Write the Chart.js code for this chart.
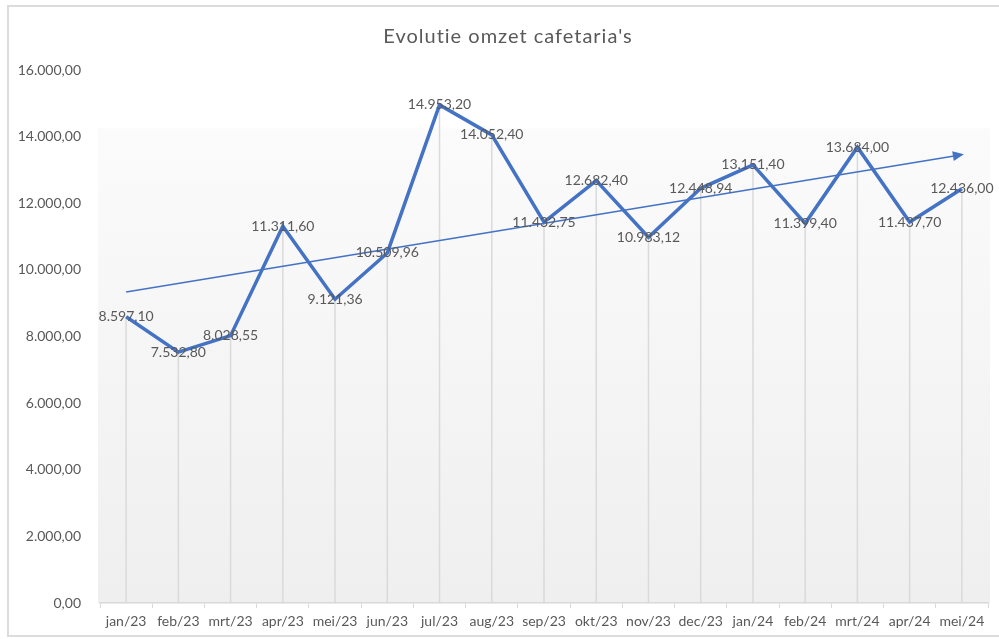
<!DOCTYPE html>
<html>
<head>
<meta charset="utf-8">
<script src="https://cdn.jsdelivr.net/npm/chart.js@4.4.1/dist/chart.umd.min.js"></script>
<style>
  html, body { margin: 0; padding: 0; background: #fff; }
  #wrap { width: 999px; height: 639px; position: relative; }
</style>
</head>
<body>
<div id="wrap"><canvas id="omzetChart" width="999" height="639"></canvas></div>
<script>
const maanden = ['jan/23', 'feb/23', 'mrt/23', 'apr/23', 'mei/23', 'jun/23', 'jul/23', 'aug/23', 'sep/23',
    'okt/23', 'nov/23', 'dec/23', 'jan/24', 'feb/24', 'mrt/24', 'apr/24', 'mei/24'];
const omzet = [8597.10, 7532.80, 8028.55, 11311.60, 9121.36, 10509.96, 14953.20, 14052.40, 11432.75,
    12682.40, 10983.12, 12448.94, 13151.40, 11399.40, 13684.00, 11437.70, 12436.00];
// trendlijn: alleen begin- en eindpunt
const trend = [9340, null, null, null, null, null, null, null, null,
    null, null, null, null, null, null, null, 13460];
const yTicks = [0, 2000, 4000, 6000, 8000, 10000, 12000, 14000, 16000];
const titel = "Evolutie omzet cafetaria's";

const grijs = '#595959';
const blauw = '#4472C4';
const lettertype = 'Lato, "Open Sans", sans-serif';
const fmt = v => v.toLocaleString('nl-NL', { minimumFractionDigits: 2, maximumFractionDigits: 2 });

// kader, titel, achtergrondverloop en vallijnen
const achtergrond = {
    id: 'achtergrond',
    beforeDraw(chart) {
        const { ctx, chartArea, scales } = chart;
        ctx.save();
        ctx.strokeStyle = '#dcdcdc';
        ctx.lineWidth = 2;
        ctx.strokeRect(8, 6, 1010, 630);

        ctx.font = '20px ' + lettertype;
        ctx.letterSpacing = '1px';
        ctx.fillStyle = grijs;
        ctx.textAlign = 'center';
        ctx.textBaseline = 'middle';
        ctx.fillText(titel, 508, 37);
        ctx.letterSpacing = '0px';

        const top = scales.y.getPixelForValue(14250);
        const bottom = scales.y.getPixelForValue(0);
        const grad = ctx.createLinearGradient(0, top, 0, bottom);
        grad.addColorStop(0, '#fbfbfb');
        grad.addColorStop(1, '#efefef');
        ctx.fillStyle = grad;
        ctx.fillRect(chartArea.left - 2, top, chartArea.right - chartArea.left + 4, bottom - top);
        const meta = chart.getDatasetMeta(0);
        ctx.strokeStyle = '#dadada';
        ctx.lineWidth = 1.5;
        meta.data.forEach(pt => {
            ctx.beginPath();
            ctx.moveTo(pt.x, pt.y);
            ctx.lineTo(pt.x, bottom);
            ctx.stroke();
        });
        ctx.restore();
    }
};

// pijlpunt aan trendlijn en labels bij de punten
const labels = {
    id: 'labels',
    afterDatasetsDraw(chart) {
        const { ctx } = chart;
        const tm = chart.getDatasetMeta(1).data;
        const a = tm[0], b = tm[tm.length - 1];
        const ang = Math.atan2(b.y - a.y, b.x - a.x);
        ctx.save();
        ctx.fillStyle = blauw;
        ctx.translate(b.x, b.y);
        ctx.rotate(ang);
        ctx.beginPath();
        ctx.moveTo(2, 0);
        ctx.lineTo(-9, -5);
        ctx.lineTo(-9, 5);
        ctx.closePath();
        ctx.fill();
        ctx.restore();

        ctx.save();
        ctx.font = '14px ' + lettertype;
        ctx.fillStyle = grijs;
        ctx.textAlign = 'center';
        ctx.textBaseline = 'middle';
        chart.getDatasetMeta(0).data.forEach((pt, i) => {
            ctx.fillText(fmt(omzet[i]), pt.x, pt.y);
        });
        ctx.restore();
    }
};

const ctx = document.getElementById('omzetChart').getContext('2d');
const omzetChart = new Chart(ctx, {
    type: 'line',
    data: {
        labels: maanden,
        datasets: [{
            label: 'Omzet',
            data: omzet,
            borderColor: blauw,
            borderWidth: 3.5,
            pointRadius: 0,
            tension: 0,
            order: 1
        }, {
            label: 'Trend',
            data: trend,
            borderColor: blauw,
            borderWidth: 1.5,
            pointRadius: 0,
            spanGaps: true,
            order: 2
        }]
    },
    options: {
        responsive: false,
        animation: false,
        layout: { padding: { left: 0, right: 11, top: 70, bottom: 4 } },
        plugins: {
            legend: { display: false },
            tooltip: { enabled: false },
            title: { display: false }
        },
        scales: {
            x: {
                offset: true,
                grid: {
                    display: true,
                    offset: true,
                    drawOnChartArea: false,
                    tickLength: 5,
                    color: '#d9d9d9'
                },
                border: { color: '#d9d9d9', width: 1.5 },
                ticks: {
                    color: grijs,
                    font: { family: lettertype, size: 14 },
                    padding: 5,
                    maxRotation: 0,
                    autoSkip: false
                }
            },
            y: {
                min: 0,
                max: 16000,
                afterBuildTicks(scale) {
                    scale.ticks = yTicks.map(v => ({ value: v }));
                },
                afterFit(scale) {
                    scale.width = 100;
                },
                grid: { display: false },
                border: { display: false },
                ticks: {
                    color: grijs,
                    font: { family: lettertype, size: 14 },
                    padding: 11,
                    callback: v => fmt(v)
                }
            }
        }
    },
    plugins: [achtergrond, labels]
});
</script>
</body>
</html>
